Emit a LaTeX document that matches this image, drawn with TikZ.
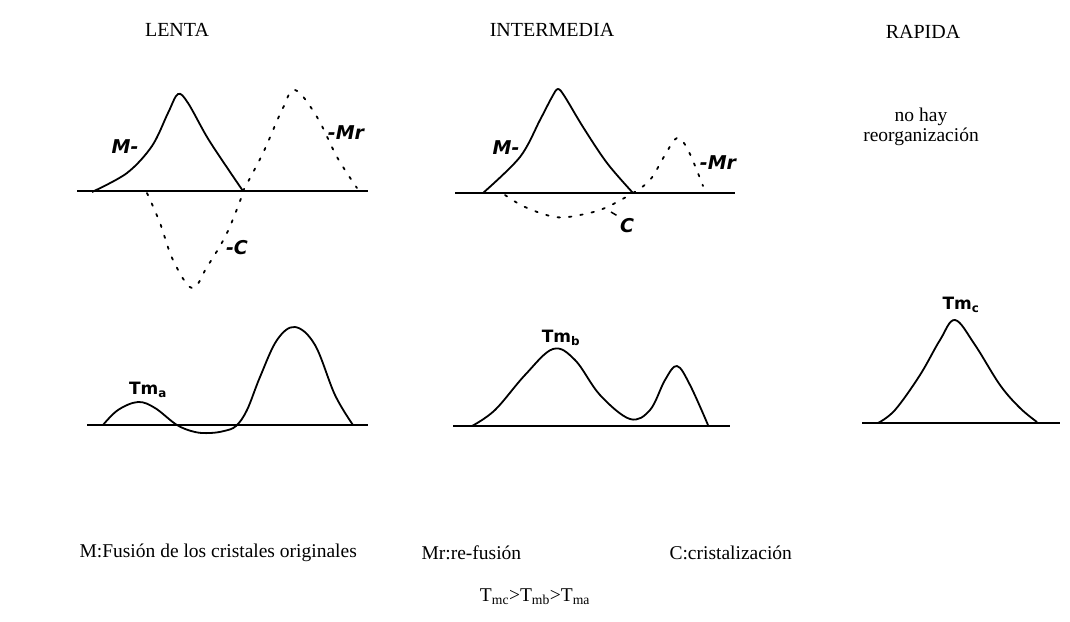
\documentclass[tikz,border=0pt]{standalone}
\usepackage{fontspec}
\setmainfont{Liberation Serif}
\setsansfont{DejaVu Sans}
\usetikzlibrary{positioning}

\begin{document}
\begin{tikzpicture}[x=1pt, y=-1pt,
    curve/.style = {line width=1.8pt, line join=round},
    dotcurve/.style = {line width=1.8pt, dash pattern=on 2.5pt off 9pt, line cap=round},
    axis/.style = {line width=1.5pt},
    title/.style = {font=\fontsize{20}{24}\selectfont},
    legend/.style = {font=\fontsize{19.5}{23}\selectfont, anchor=west},
    hand/.style = {font=\fontsize{19}{22}\selectfont\sffamily\bfseries\itshape},
    tm/.style = {font=\fontsize{17}{20}\selectfont\sffamily\bfseries}]

      \useasboundingbox (0,0) rectangle (1070,621);

      \node[title] (lenta) at (177,30) {LENTA};
      \node[title] (intermedia) at (552,30) {INTERMEDIA};
      \node[title] (rapida) at (923,32) {RAPIDA};

      % lenta
      \draw[axis] (77,191) -- (368,191);
      \draw[curve] plot[smooth, tension=0.55] coordinates {(92,192) (127,173) (152,146) (168,113) (178,94) (188,103) (207,137) (226,166) (243,191)};
      \draw[dotcurve] plot[smooth, tension=0.6] coordinates {(243,191) (263,153) (282,110) (295,90) (317,117) (337,157) (357,188)};
      \draw[dotcurve] plot[smooth, tension=0.6] coordinates {(147,193) (160,223) (173,260) (192,288) (207,267) (227,233) (243,193)};
      \node[hand] (M1) at (125,147) {M-};
      \node[hand] (Mr1) at (346,133) {-Mr};
      \node[hand] (C1) at (237,248) {-C};

      \draw[axis] (87,425) -- (368,425);
      \draw[curve] plot[smooth, tension=0.6] coordinates {(103,425) (118,410) (138,402) (155,408) (177,425) (195,432) (210,433) (224,431) (236,426) (247,410) (260,377) (277,340) (295,327) (315,345) (335,395) (353,425)};
      \node[tm] (Tma) at (148,390) {Tm\textsubscript{a}};

      % intermedia
      \draw[axis] (455,193) -- (735,193);
      \draw[curve] plot[smooth, tension=0.55] coordinates {(483,193) (520,157) (540,120) (552,97) (558,89) (565,97) (583,127) (607,163) (633,193)};
      \draw[dotcurve] plot[smooth, tension=0.6] coordinates {(505,195) (525,207) (555,217) (580,215) (605,208) (633,193)};
      \draw[dotcurve] plot[smooth, tension=0.6] coordinates {(633,193) (650,180) (665,155) (677,138) (688,150) (703,186)};
      \node[hand] (M2) at (506,148) {M-};
      \node[hand] (Mr2) at (718,163) {-Mr};
      \node[hand] (C2) at (627,226) {C};
      \draw[line width=1.5pt] (611,212) -- (C2.north west);

      \draw[axis] (453,426) -- (730,426);
      \draw[curve] plot[smooth, tension=0.6] coordinates {(472,426) (495,410) (525,375) (553,349) (575,360) (600,395) (630,419) (650,410) (665,380) (677,366) (690,385) (708,425)};
      \node[tm] (Tmb) at (561,338) {Tm\textsubscript{b}};

      % rapida
      \node[legend, anchor=center] (nohay) at (921,117) {no hay};
      \node[legend, anchor=center] (reorg) at (921,137) {reorganización};

      \draw[axis] (862,423) -- (1060,423);
      \draw[curve] plot[smooth, tension=0.6] coordinates {(878,423) (895,410) (920,375) (940,340) (955,320) (975,345) (1000,385) (1020,408) (1037,422)};
      \node[tm] (Tmc) at (961,305) {Tm\textsubscript{c}};

      % leyenda
      \node[legend] (leyM) at (76,553) {M:Fusión de los cristales originales};
      \node[legend] (leyMr) at (418,553) {Mr:re-fusión};
      \node[legend] (leyC) at (666,553) {C:cristalización};
      \node[legend, anchor=center] (orden) at (535,597) {T\textsubscript{mc}>T\textsubscript{mb}>T\textsubscript{ma}};
\end{tikzpicture}
\end{document}
